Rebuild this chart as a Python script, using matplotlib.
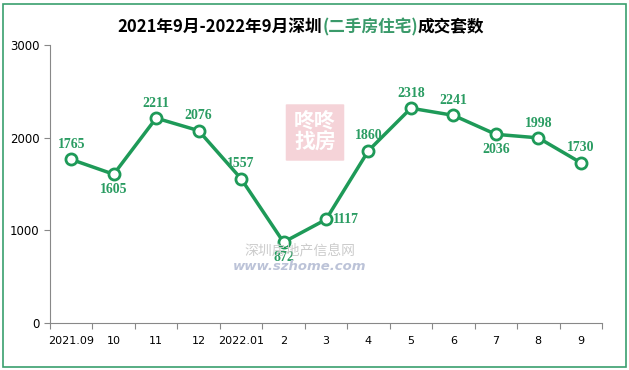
import matplotlib
matplotlib.use("Agg")
import matplotlib.pyplot as plt
from matplotlib.patches import Rectangle, FancyBboxPatch

months = ["2021.09", "10", "11", "12", "2022.01", "2", "3", "4", "5", "6", "7", "8", "9"]
deals = [1765, 1605, 2211, 2076, 1557, 872, 1117, 1860, 2318, 2241, 2036, 1998, 1730]
# where each value label sits relative to its point
label_pos = ["up", "down", "up", "up", "up", "down", "right", "up", "up", "up", "down", "up", "up"]

green = "#1e9a58"
label_green = "#2a9c62"

plt.rcParams["font.family"] = ["Noto Sans CJK SC", "DejaVu Sans"]

fig = plt.figure(figsize=(6.29, 3.70), dpi=100)
ax = fig.add_axes([50 / 629, 1 - 323 / 370, 552 / 629, 278 / 370])

# outer green frame
fig.patches.append(Rectangle((3 / 629, 3 / 370), 623 / 629, 363 / 370, transform=fig.transFigure,
                             fill=False, edgecolor="#3aa06e", linewidth=1.2))

# faint watermark
fig.patches.append(FancyBboxPatch((287 / 629, 1 - 160 / 370), 56 / 629, 55 / 370,
                                  boxstyle="round,pad=0.002", transform=fig.transFigure,
                                  facecolor="#f3c9cf", edgecolor="none", alpha=0.8, zorder=0))
fig.text(315 / 629, 1 - 132 / 370, "咚咚\n找房", ha="center", va="center", color="white",
         fontsize=15, fontweight="bold", linespacing=1.0, zorder=1)
fig.text(300 / 629, 1 - 250 / 370, "深圳房地产信息网", ha="center", va="center",
         color="#cccccc", fontsize=10, style="italic", zorder=1)
fig.text(300 / 629, 1 - 266 / 370, "www.szhome.com", ha="center", va="center",
         color="#bcc3d8", fontsize=9.5, style="italic", fontweight="bold",
         family="DejaVu Sans", zorder=1)

x = list(range(len(deals)))
ax.plot(x, deals, color=green, linewidth=2.5, marker="o", markersize=8,
        markerfacecolor="white", markeredgecolor=green, markeredgewidth=2, zorder=3)

for xi, v, p in zip(x, deals, label_pos):
    if p == "up":
        off, ha, va = (0, 6), "center", "bottom"
    elif p == "down":
        off, ha, va = (0, -6), "center", "top"
    else:
        off, ha, va = (5, 0), "left", "center"
    ax.annotate(str(v), (xi, v), xytext=off, textcoords="offset points", ha=ha, va=va,
                color=label_green, fontsize=10, family="Liberation Serif", fontweight="bold")

ax.set_xlim(-0.5, len(deals) - 0.5)
ax.set_ylim(0, 3000)
ax.set_yticks([0, 1000, 2000, 3000])
ax.set_xticks([i - 0.5 for i in range(len(deals) + 1)])
ax.set_xticklabels([])
ax.set_xticks(x, minor=True)
ax.set_xticklabels(months, minor=True)
ax.tick_params(axis="x", which="minor", length=0, pad=9, labelsize=8)
ax.tick_params(axis="x", which="major", length=4, color="#888888")
ax.tick_params(axis="y", length=4, color="#888888", labelsize=8.5)
for lab in ax.get_xticklabels(minor=True) + ax.get_yticklabels():
    lab.set_family("DejaVu Sans")
for s in ["top", "right"]:
    ax.spines[s].set_visible(False)
ax.spines["left"].set_color("#888888")
ax.spines["bottom"].set_color("#888888")
ax.patch.set_alpha(0)

# title with green middle part
parts = [("2021年9月-2022年9月深圳", "black"), ("(二手房住宅)", "#3a9a6a"), ("成交套数", "black")]
fig.canvas.draw()
r = fig.canvas.get_renderer()
texts = []
for s, c in parts:
    texts.append(fig.text(0, 1 - 27 / 370, s, color=c, fontsize=12, va="center", fontweight="bold"))
widths = [t.get_window_extent(r).width for t in texts]
start = 301 - sum(widths) / 2
for t, w in zip(texts, widths):
    t.set_x(start / 629)
    start += w

fig.savefig("out.png", dpi=100)
